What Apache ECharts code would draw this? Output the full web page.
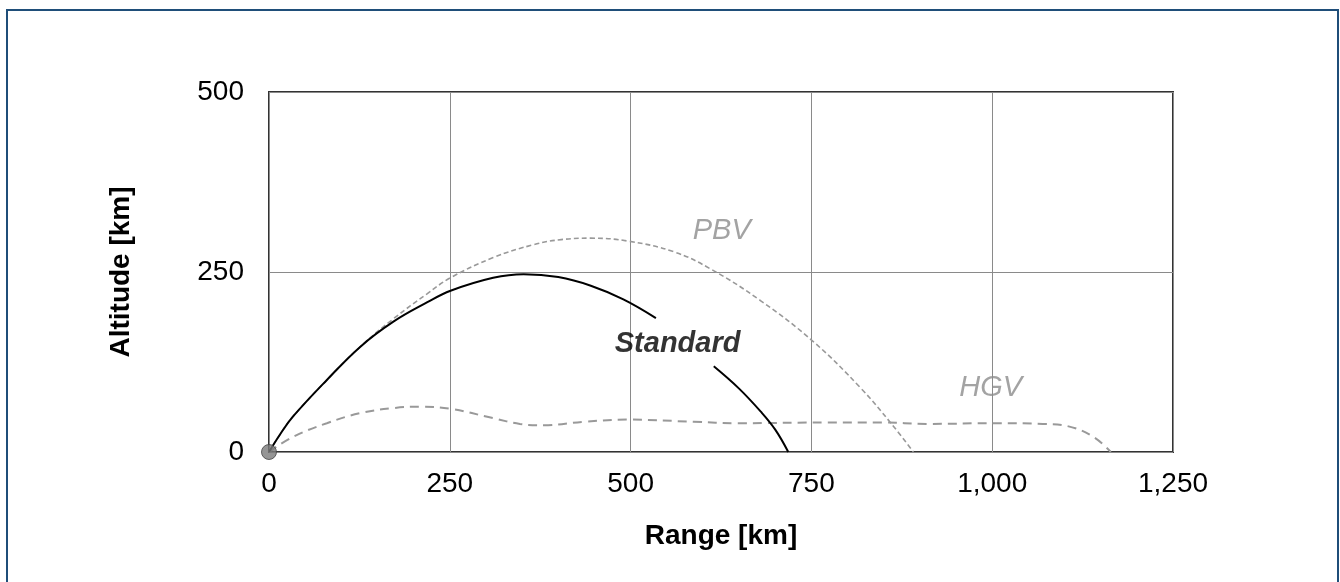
<!DOCTYPE html>
<html>
<head>
<meta charset="utf-8">
<script src="https://cdn.jsdelivr.net/npm/echarts@6/dist/echarts.min.js"></script>
<style>
html,body{margin:0;padding:0;background:#fff;}
#frame{position:absolute;left:6px;top:9px;width:1333px;height:580px;border:2px solid #1f4e79;border-bottom:none;box-sizing:border-box;}
#chart{position:absolute;left:0;top:0;width:1340px;height:582px;}
</style>
</head>
<body>
<div id="frame"></div>
<div id="chart"></div>
<script>
// Range [km], Altitude [km]
const standardPts = [[0,0],[15,24],[33,49],[80,100],[126,146],[172,181],[219,208],[251,224],[310,242],[352,247],[400,243],[445,231],[490,212],[535,186],[null,null],[615,119],[650,88],[680,56],[700,31],[718,0]];
const pbvPts = [[0,0],[15,24],[33,49],[80,100],[126,146],[172,185],[219,220],[251,242],[310,270],[366,288],[404,295],[445,297],[496,293],[560,278],[611,254],[680,210],[753,153],[818,89],[860,40],[891,0]];
const hgvPts = [[0,0],[33,21],[80,40],[126,54],[172,61],[209,63],[251,60],[310,47],[347,39],[380,37],[435,42],[496,45],[587,42],[648,40],[772,41],[846,41],[911,39],[1002,40],[1070,39],[1104,36],[1140,21],[1164,0]];
const labels = [
  {name:'PBV', coord:[626,307], color:'#8c8c8c', weight:'normal'},
  {name:'Standard', coord:[565,150], color:'#000', weight:'bold'},
  {name:'HGV', coord:[998,89], color:'#8c8c8c', weight:'normal'}
];
const xTicks = [0,250,500,750,1000,1250];
const yTicks = [0,250,500];

const chart = echarts.init(document.getElementById('chart'));
const font = 'Liberation Sans, Arial, sans-serif';
chart.setOption({
  animation:false,
  grid:{left:269,right:167,top:92,bottom:130,show:true,borderColor:'#333',borderWidth:2},
  xAxis:{type:'value',min:xTicks[0],max:xTicks[xTicks.length-1],interval:250,
    name:'Range [km]',nameLocation:'middle',nameGap:70,
    nameTextStyle:{fontFamily:font,fontSize:28,fontWeight:'bold',color:'#000'},
    axisLine:{show:false},axisTick:{show:false},
    axisLabel:{margin:18,fontFamily:font,fontSize:28,color:'#000',formatter:v=>v.toLocaleString('en-US')},
    splitLine:{show:true,lineStyle:{color:'#8a8a8a',width:1}}},
  yAxis:{type:'value',min:yTicks[0],max:yTicks[yTicks.length-1],interval:250,
    name:'Altitude [km]',nameLocation:'middle',nameGap:134,nameRotate:90,
    nameTextStyle:{fontFamily:font,fontSize:28,fontWeight:'bold',color:'#000'},
    axisLine:{show:false},axisTick:{show:false},
    axisLabel:{margin:25,fontFamily:font,fontSize:28,color:'#000'},
    splitLine:{show:true,lineStyle:{color:'#8a8a8a',width:1}}},
  series:[
    {type:'line',name:'PBV',data:pbvPts,smooth:0.4,symbol:'none',z:3,
     lineStyle:{color:'#999',width:1.6,type:[5,3]}},
    {type:'line',name:'HGV',data:hgvPts,smooth:0.4,symbol:'none',z:3,
     lineStyle:{color:'#999',width:2,type:[9,6]}},
    {type:'line',name:'Standard',data:standardPts,smooth:0.4,symbol:'none',connectNulls:false,z:4,
     lineStyle:{color:'#000',width:2}},
    {type:'scatter',data:labels.map(l=>({value:l.coord,name:l.name,
       label:{show:true,position:'inside',formatter:l.name,fontFamily:font,fontSize:29,fontStyle:'italic',fontWeight:l.weight,color:l.color}})),
     symbolSize:1,itemStyle:{color:'rgba(0,0,0,0)'},z:5},
    {type:'scatter',data:[[0,0]],symbolSize:15,itemStyle:{color:'#7a7a7a',borderColor:'#444',borderWidth:1},z:6}
  ]
});
</script>
</body>
</html>
